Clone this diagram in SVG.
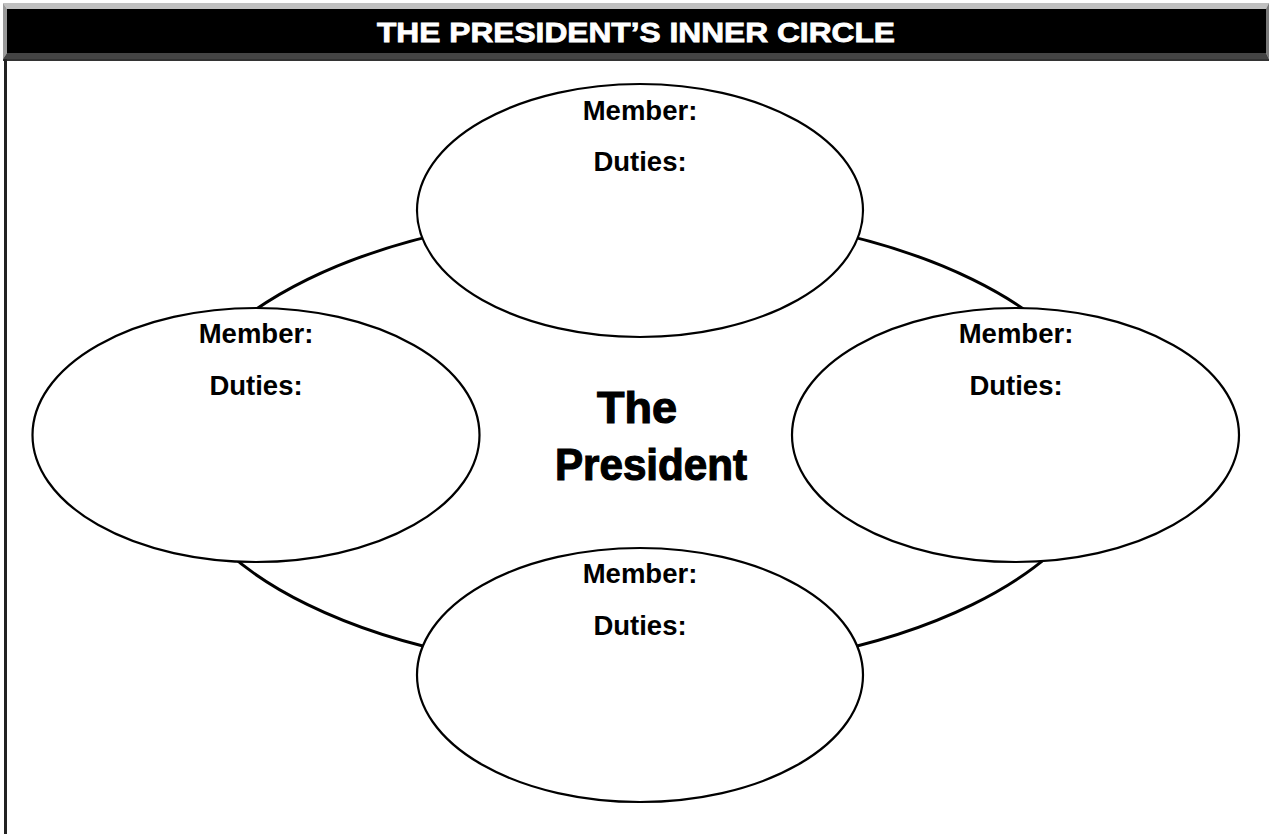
<svg xmlns="http://www.w3.org/2000/svg" width="1269" height="834" viewBox="0 0 1269 834">
<style>
.lbl{font-family:"Liberation Sans",Arial,sans-serif;font-weight:bold;font-size:27.5px;fill:#000;text-anchor:middle}
.node{fill:#fff;stroke:#000;stroke-width:2.2}
.big{font-family:"Liberation Sans",Arial,sans-serif;font-weight:bold;font-size:45px;fill:#000;stroke:#000;stroke-width:1.2;text-anchor:middle}
</style>
<rect x="0" y="0" width="1269" height="834" fill="#fff"/>
<g id="header">
<polygon points="3,3 1269,3 1266,9 7,9" fill="#c0c0c0"/>
<polygon points="3,3 7,9 7,53 3,59" fill="#9a9a9a"/>
<polygon points="1269,3 1269,59 1266,53 1266,9" fill="#7a7a7a"/>
<polygon points="3,59 7,53 1266,53 1269,59" fill="#444"/>
<rect x="7" y="9" width="1259" height="44" fill="#000"/>
<rect x="3" y="59" width="1266" height="2" fill="#333"/>
<text x="636" y="42" font-family="'Liberation Sans',Arial,sans-serif" font-weight="bold" font-size="28" fill="#fff" stroke="#fff" stroke-width="0.8" text-anchor="middle" textLength="518" lengthAdjust="spacingAndGlyphs">THE PRESIDENT’S INNER CIRCLE</text>
</g>
<rect x="4" y="59" width="3" height="775" fill="#222"/>
<g id="connectors">
<ellipse cx="640" cy="442" rx="470" ry="230" fill="none" stroke="#000" stroke-width="3"/>
</g>
<g id="president">
<text class="big" x="637" y="423">The</text>
<text class="big" x="651" y="480" textLength="192" lengthAdjust="spacingAndGlyphs">President</text>
</g>
<g id="member-top">
<ellipse class="node" cx="640" cy="210.5" rx="223" ry="126.5"/>
<text class="lbl" x="640" y="120">Member:</text>
<text class="lbl" x="640" y="171">Duties:</text>
</g>
<g id="member-left">
<ellipse class="node" cx="256" cy="435" rx="223.5" ry="127"/>
<text class="lbl" x="256" y="343">Member:</text>
<text class="lbl" x="256" y="395">Duties:</text>
</g>
<g id="member-right">
<ellipse class="node" cx="1015.5" cy="435" rx="223.5" ry="127"/>
<text class="lbl" x="1016" y="343">Member:</text>
<text class="lbl" x="1016" y="395">Duties:</text>
</g>
<g id="member-bottom">
<ellipse class="node" cx="640" cy="675" rx="223" ry="127"/>
<text class="lbl" x="640" y="583">Member:</text>
<text class="lbl" x="640" y="635">Duties:</text>
</g>
</svg>
